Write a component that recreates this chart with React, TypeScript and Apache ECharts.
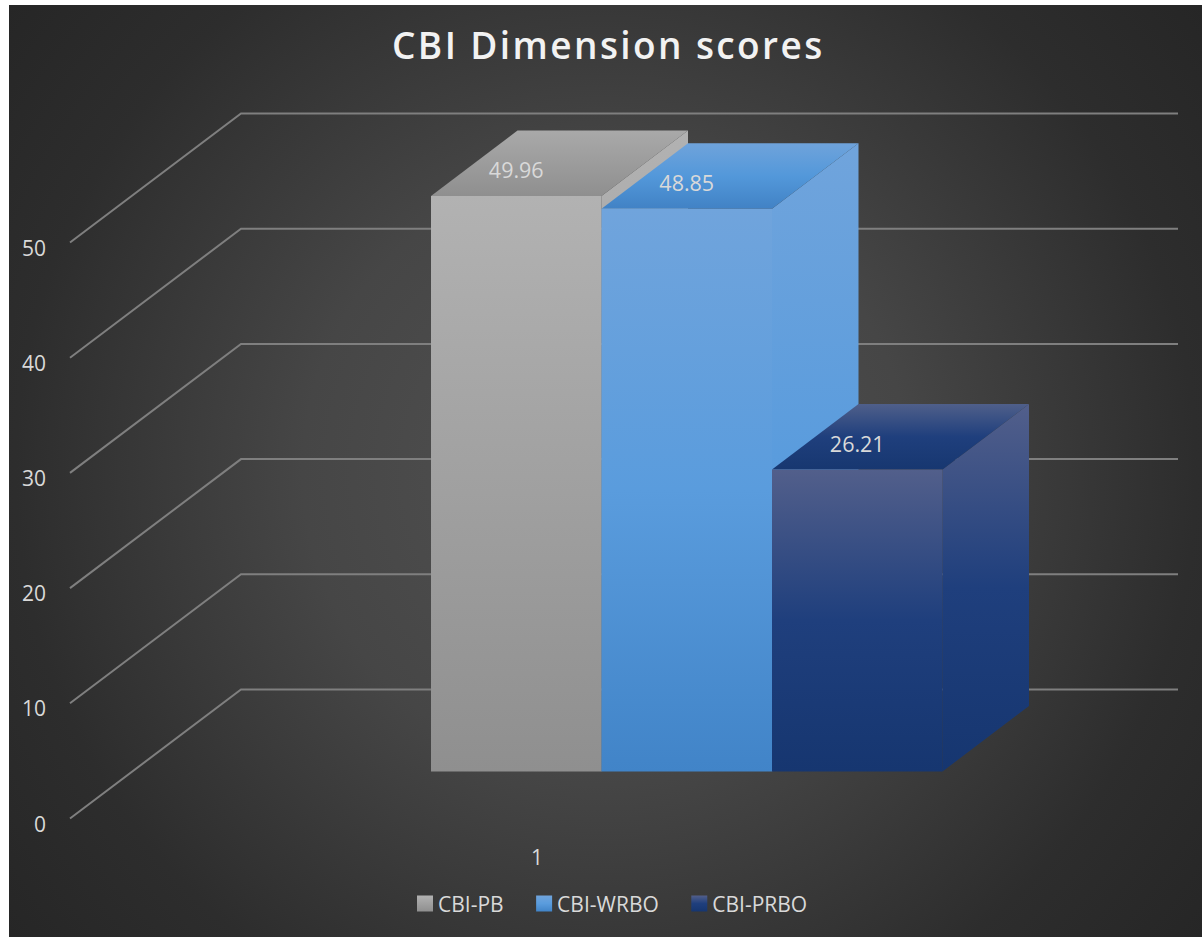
import React, { useEffect, useRef } from "react";
import * as echarts from "echarts";

const titleText = "CBI Dimension scores";
const categories = ["1"];
const seriesNames = ["CBI-PB", "CBI-WRBO", "CBI-PRBO"];
const seriesValues = [49.96, 48.85, 26.21];
const yTicks = [0, 10, 20, 30, 40, 50];

const frontStops = [
  [[0, "#b2b2b2"], [1, "#8f8f8f"]],
  [[0, "#70a4dc"], [0.5, "#5a9cdd"], [1, "#4184c8"]],
  [[0, "#525f8b"], [0.5, "#1f3f7d"], [1, "#163670"]],
];
const topStops = [
  [[0, "#a9a9a9"], [1, "#8f8f8f"]],
  [[0, "#6fa3db"], [0.5, "#5398da"], [1, "#4182c5"]],
  [[0, "#4f5f8a"], [0.5, "#1f3f7d"], [1, "#173770"]],
];

const grad = (stops: any[]) =>
  new echarts.graphic.LinearGradient(
    0, 0, 0, 1,
    stops.map(([offset, color]) => ({ offset, color }))
  );

// Perspective layout of the imitated 3D chart, in pixels
const WALL_DX = 171;
const WALL_DY = 129;
const WALL_RIGHT = 1169;
const BAR_DX = 86.5;
const BAR_DY = 65.5;
const FLOOR_DY = 47;
const BAR_START = -106;
const BAR_W = 170.5;

const labelColor = "#d9d9d9";
const fontFamily = "'Open Sans', sans-serif";

export default function App() {
  const ref = useRef<HTMLDivElement>(null);

  useEffect(() => {
    const chart = echarts.init(ref.current!, undefined, { renderer: "svg" });

    const gridSeries: any = {
      type: "custom",
      name: "grid",
      silent: true,
      z: 1,
      clip: false,
      encode: { x: 0, y: 1 },
      data: yTicks.map((v) => [0, v]),
      renderItem: (_p: any, api: any) => {
        const y = api.coord([api.value(0), api.value(1)])[1];
        const x0 = api.coord([0, 0])[0] - api.size([1, 0])[0] / 2;
        return {
          type: "polyline",
          shape: {
            points: [
              [x0, y],
              [x0 + WALL_DX, y - WALL_DY],
              [WALL_RIGHT, y - WALL_DY],
            ],
          },
          style: { fill: "none", stroke: "#7f7f7f", lineWidth: 2 },
        };
      },
    };

    const barSeries: any[] = seriesNames.map((name, i) => ({
      type: "custom",
      name,
      silent: true,
      z: 2 + i,
      clip: false,
      encode: { x: 0, y: 1 },
      data: [[0, seriesValues[i]]],
      renderItem: (_p: any, api: any) => {
        const top = api.coord([api.value(0), api.value(1)]);
        const base = api.coord([api.value(0), 0]);
        const xl = top[0] + BAR_START + i * BAR_W;
        const xr = xl + BAR_W;
        const yt = top[1] - FLOOR_DY;
        const yb = base[1] - FLOOR_DY;
        return {
          type: "group",
          children: [
            {
              type: "polygon",
              shape: {
                points: [
                  [xr, yt],
                  [xr + BAR_DX, yt - BAR_DY],
                  [xr + BAR_DX, yb - BAR_DY],
                  [xr, yb],
                ],
              },
              style: { fill: grad(frontStops[i]) },
            },
            {
              type: "polygon",
              shape: {
                points: [
                  [xl, yt],
                  [xl + BAR_DX, yt - BAR_DY],
                  [xr + BAR_DX, yt - BAR_DY],
                  [xr, yt],
                ],
              },
              style: { fill: grad(topStops[i]) },
            },
            {
              type: "rect",
              shape: { x: xl, y: yt, width: BAR_W, height: yb - yt },
              style: { fill: grad(frontStops[i]) },
            },
            {
              type: "text",
              x: xl + BAR_W / 2,
              y: yt - 26,
              style: {
                text: String(api.value(1)),
                fill: labelColor,
                fontSize: 21.5,
                fontFamily,
                align: "center",
                verticalAlign: "middle",
              },
            },
          ],
        };
      },
    }));

    chart.setOption({
      animation: false,
      backgroundColor: "transparent",
      title: {
        text: titleText,
        left: 378,
        top: 16,
        textStyle: {
          color: "#f2f2f2",
          fontFamily,
          fontSize: 37,
          fontWeight: 600,
        },
      },
      legend: {
        left: 408,
        top: 888,
        padding: 0,
        itemWidth: 16,
        itemHeight: 16,
        itemGap: 32.5,
        selectedMode: false,
        textStyle: {
          color: labelColor,
          fontFamily,
          fontSize: 21,
          padding: 0,
        },
        data: seriesNames.map((name, i) => ({
          name,
          icon: "rect",
          itemStyle: { color: grad(frontStops[i]) },
        })),
      },
      grid: { left: 61, width: 934, top: 237.5, height: 576 },
      xAxis: {
        type: "category",
        data: categories,
        axisLine: { show: false },
        axisTick: { show: false },
        splitLine: { show: false },
        axisLabel: {
          color: labelColor,
          fontFamily,
          fontSize: 21,
          margin: 28,
        },
      },
      yAxis: {
        type: "value",
        min: 0,
        max: 50,
        interval: 10,
        axisLine: { show: false },
        axisTick: { show: false },
        splitLine: { show: false },
        axisLabel: {
          color: labelColor,
          fontFamily,
          fontSize: 21,
          margin: 24,
          verticalAlign: "top",
          lineHeight: 10,
        },
      },
      series: [gridSeries, ...barSeries],
    });

    // The reference title is letter-spaced; ECharts has no option for it.
    ref.current!.querySelectorAll("text").forEach((t) => {
      if (t.textContent === titleText) t.style.letterSpacing = "2.4px";
    });

    return () => chart.dispose();
  }, []);

  return (
    <div
      ref={ref}
      style={{
        position: "absolute",
        left: 9,
        top: 5,
        width: 1193,
        height: 932,
        background:
          "radial-gradient(circle farthest-corner at 50% 50%, #525252 0%, #464646 40%, #2d2d2d 78%, #262626 100%)",
      }}
    />
  );
}
